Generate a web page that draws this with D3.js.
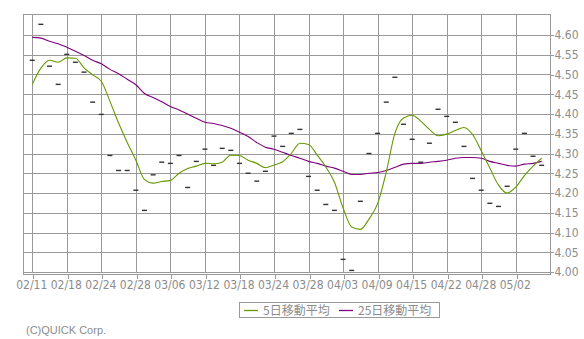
<!DOCTYPE html>
<html><head><meta charset="utf-8">
<script src="https://cdn.jsdelivr.net/npm/d3@7"></script>
<style>
html,body{margin:0;padding:0;background:#fff;}
svg{display:block;}
</style></head>
<body>
<svg id="chart" width="584" height="339"></svg>
<script>
const dates = ["02/11","02/12","02/13","02/14","02/18","02/19","02/20","02/21","02/24","02/25","02/26","02/27","02/28",
"03/03","03/04","03/05","03/06","03/07","03/10","03/11","03/12","03/13","03/14","03/17","03/18","03/19","03/20","03/21","03/24","03/25","03/26","03/27","03/28","03/31",
"04/01","04/02","04/03","04/04","04/07","04/08","04/09","04/10","04/11","04/14","04/15","04/16","04/17","04/21","04/22","04/23","04/24","04/25","04/28","04/29","04/30",
"05/01","05/02","05/05","05/06","05/07"];
const closes = [4.536,4.627,4.521,4.475,4.551,4.531,4.506,4.430,4.399,4.295,
4.257,4.257,4.207,4.156,4.246,4.278,4.275,4.295,4.214,4.280,
4.311,4.270,4.313,4.308,4.275,4.250,4.230,4.255,4.344,4.318,
4.351,4.361,4.242,4.207,4.171,4.156,4.032,4.004,4.179,4.300,
4.351,4.430,4.493,4.374,4.336,4.278,4.326,4.412,4.394,4.379,
4.318,4.237,4.207,4.174,4.166,4.217,4.311,4.351,4.293,4.270];
const ma5 = [4.475,4.516,4.536,4.531,4.542,4.541,4.517,4.499,4.483,4.432,
4.377,4.328,4.283,4.234,4.225,4.229,4.232,4.250,4.262,4.268,
4.275,4.274,4.278,4.296,4.295,4.283,4.275,4.264,4.271,4.279,
4.300,4.326,4.323,4.296,4.266,4.227,4.162,4.114,4.108,4.134,
4.173,4.253,4.351,4.390,4.397,4.382,4.361,4.345,4.349,4.358,
4.366,4.348,4.307,4.263,4.220,4.200,4.215,4.244,4.268,4.288];
const ma25 = [4.594,4.592,4.584,4.578,4.569,4.559,4.548,4.536,4.527,4.513,
4.502,4.488,4.474,4.452,4.442,4.431,4.419,4.410,4.400,4.389,
4.379,4.376,4.371,4.364,4.354,4.343,4.328,4.316,4.311,4.303,
4.295,4.288,4.280,4.275,4.268,4.263,4.255,4.247,4.247,4.250,
4.252,4.257,4.265,4.273,4.275,4.275,4.278,4.280,4.283,4.288,
4.290,4.290,4.288,4.280,4.275,4.270,4.268,4.273,4.275,4.280];
const yTicks = [4.00,4.05,4.10,4.15,4.20,4.25,4.30,4.35,4.40,4.45,4.50,4.55,4.60];
const seriesNames = ["5日移動平均","25日移動平均"];
const seriesColors = ["#669900","#800080"];

const L = 23.5, R = 550.5, T = 14.5, B = 274.5;
const svg = d3.select("#chart");
const x = d3.scaleLinear().domain([-1, 60]).range([23.6, 550.3]);
const y = d3.scaleLinear().domain([4.0, 4.6]).range([272, 35]);
const numFont = "'Liberation Sans Narrow','DejaVu Sans Condensed','Liberation Sans',sans-serif";
const gray = "#999";
const txt = "#8c8c8c";

// plot border
svg.append("rect").attr("x", L).attr("y", T).attr("width", R - L).attr("height", B - T)
  .attr("fill", "#fff").attr("stroke", gray).attr("shape-rendering", "crispEdges");

const labelIdx = d3.range(0, 57, 4);
// grid
const g = svg.append("g").attr("stroke", gray).attr("shape-rendering", "crispEdges");
g.selectAll("line.v").data(labelIdx).join("line")
  .attr("x1", d => Math.round(x(d)) + 0.5).attr("x2", d => Math.round(x(d)) + 0.5)
  .attr("y1", T).attr("y2", 272.5);
g.selectAll("line.h").data(yTicks).join("line")
  .attr("x1", L).attr("x2", R)
  .attr("y1", d => Math.round(y(d)) + 0.5).attr("y2", d => Math.round(y(d)) + 0.5);

// y axis (right)
const ya = svg.append("g").attr("transform", `translate(${R},0)`)
  .call(d3.axisRight(y).tickValues(yTicks).tickSize(3).tickPadding(1).tickFormat(d3.format(".2f")));
ya.select(".domain").remove();
ya.selectAll("line").attr("stroke", gray).attr("shape-rendering", "crispEdges");
ya.selectAll("text").attr("fill", txt).attr("font-family", numFont).attr("font-size", 12);

// x axis
const xa = svg.append("g").attr("transform", `translate(0,${B})`)
  .call(d3.axisBottom(x).tickValues(labelIdx).tickSize(4).tickPadding(2).tickFormat(i => dates[i]));
xa.select(".domain").remove();
xa.selectAll("line").attr("stroke", gray).attr("shape-rendering", "crispEdges")
  .attr("transform", function(d){ return `translate(${Math.round(x(d)) + 0.5 - x(d)},0)`; });
xa.selectAll("text").attr("fill", txt).attr("font-family", numFont).attr("font-size", 12).attr("dx", -1);

// MA lines
const line = d3.line().x((d, i) => x(i)).y(d => y(d)).curve(d3.curveMonotoneX);
svg.append("path").datum(ma25).attr("d", line).attr("fill", "none")
  .attr("stroke", seriesColors[1]).attr("stroke-width", 1.1);
svg.append("path").datum(ma5).attr("d", line).attr("fill", "none")
  .attr("stroke", seriesColors[0]).attr("stroke-width", 1.1);

// close marks
svg.append("g").selectAll("line").data(closes).join("line")
  .attr("x1", (d, i) => x(i) - 2.5).attr("x2", (d, i) => x(i) + 2.5)
  .attr("y1", d => y(d)).attr("y2", d => y(d))
  .attr("stroke", "#333").attr("stroke-width", 1.4);

// legend
const lg = svg.append("g");
lg.append("rect").attr("x", 239.5).attr("y", 302.5).attr("width", 200).attr("height", 15)
  .attr("fill", "#fff").attr("stroke", gray).attr("shape-rendering", "crispEdges");
const items = [{sx: 244, tx: 263}, {sx: 339, tx: 358}];
items.forEach((it, k) => {
  lg.append("line").attr("x1", it.sx).attr("x2", it.sx + 14).attr("y1", 310.5).attr("y2", 310.5)
    .attr("stroke", seriesColors[k]).attr("stroke-width", 1.3);
  lg.append("text").attr("x", it.tx).attr("y", 314.5).text(seriesNames[k])
    .attr("fill", txt).attr("font-family", "'Noto Sans CJK JP',sans-serif").attr("font-size", 12);
});

// credit
svg.append("text").attr("x", 26).attr("y", 334).text("(C)QUICK Corp.")
  .attr("fill", txt).attr("font-family", "'Liberation Sans',Arial,sans-serif").attr("font-size", 11);
</script>
</body></html>
